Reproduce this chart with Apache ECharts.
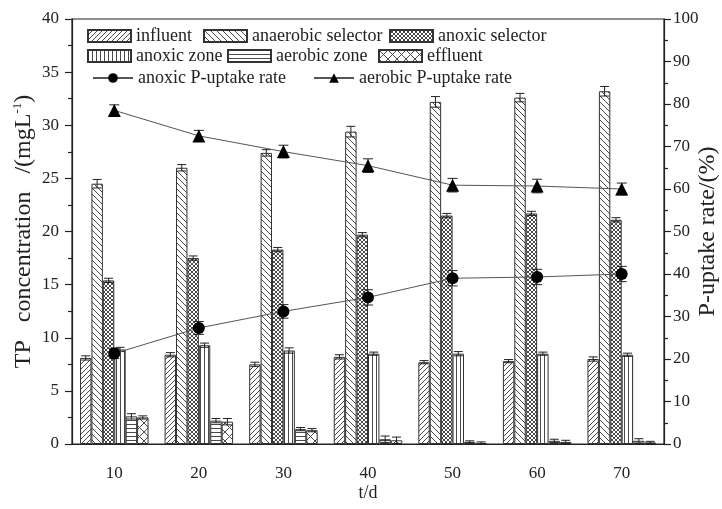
<!DOCTYPE html>
<html><head><meta charset="utf-8">
<script src="https://cdn.jsdelivr.net/npm/echarts@6/dist/echarts.min.js"></script>
<style>html,body{margin:0;padding:0;background:#fff}#c{width:722px;height:509px}</style>
</head><body><div id="c"></div>
<script>
// ---- data ----
const days = ['10', '20', '30', '40', '50', '60', '70'];
const influent        = [8.1, 8.4, 7.5, 8.2, 7.7, 7.8, 8.0];
const influentErr     = [0.2, 0.2, 0.2, 0.2, 0.15, 0.15, 0.2];
const anaerobicSel    = [24.5, 26.0, 27.4, 29.4, 32.2, 32.6, 33.2];
const anaerobicSelErr = [0.4, 0.3, 0.3, 0.5, 0.5, 0.4, 0.45];
const anoxicSel       = [15.4, 17.5, 18.3, 19.7, 21.5, 21.7, 21.1];
const anoxicSelErr    = [0.2, 0.2, 0.2, 0.2, 0.2, 0.2, 0.2];
const anoxicZone      = [8.9, 9.3, 8.8, 8.5, 8.5, 8.5, 8.4];
const anoxicZoneErr   = [0.2, 0.2, 0.25, 0.15, 0.2, 0.15, 0.15];
const aerobicZone     = [2.6, 2.2, 1.4, 0.45, 0.2, 0.3, 0.3];
const aerobicZoneErr  = [0.25, 0.2, 0.15, 0.3, 0.1, 0.15, 0.2];
const effluent        = [2.5, 2.1, 1.3, 0.35, 0.1, 0.2, 0.15];
const effluentErr     = [0.15, 0.3, 0.15, 0.3, 0.1, 0.15, 0.1];
const anoxicRate      = [21.3, 27.3, 31.2, 34.5, 39.0, 39.3, 40.0];
const anoxicRateErr   = [1.2, 1.5, 1.6, 1.8, 1.8, 1.8, 1.8];
const aerobicRate     = [78.5, 72.5, 68.8, 65.5, 60.9, 60.7, 60.0];
const aerobicRateErr  = [1.3, 1.3, 1.5, 1.6, 1.6, 1.6, 1.4];
const leftTicks = [0, 5, 10, 15, 20, 25, 30, 35, 40];
const rightTicks = [0, 10, 20, 30, 40, 50, 60, 70, 80, 90, 100];

// ---- patterns ----
function pattern(type) {
  const c = document.createElement('canvas');
  let s = 5;
  if (type === 'back') s = 6;
  if (type === 'dense') s = 4;
  if (type === 'vert' || type === 'horiz') s = 4;
  if (type === 'bigx') s = 9;
  c.width = s; c.height = s;
  const g = c.getContext('2d');
  g.fillStyle = '#fff'; g.fillRect(0, 0, s, s);
  g.strokeStyle = '#4a4a4a'; g.lineWidth = 1;
  const fwd = () => { g.beginPath(); g.moveTo(-1, s + 1); g.lineTo(s + 1, -1); g.moveTo(-1, 1); g.lineTo(1, -1); g.moveTo(s - 1, s + 1); g.lineTo(s + 1, s - 1); g.stroke(); };
  const back = () => { g.beginPath(); g.moveTo(-1, -1); g.lineTo(s + 1, s + 1); g.moveTo(s - 1, -1); g.lineTo(s + 1, 1); g.moveTo(-1, s - 1); g.lineTo(1, s + 1); g.stroke(); };
  if (type === 'fwd') fwd();
  if (type === 'back') back();
  if (type === 'dense' || type === 'bigx') { fwd(); back(); }
  if (type === 'vert') { g.beginPath(); g.moveTo(0.5, 0); g.lineTo(0.5, s); g.stroke(); }
  if (type === 'horiz') { g.beginPath(); g.moveTo(0, 0.5); g.lineTo(s, 0.5); g.stroke(); }
  return { image: c, repeat: 'repeat' };
}

const FONT = 'Liberation Serif, Times New Roman, serif';
const BARW = 0.135;
const barDefs = [
  ['influent', influent, influentErr, 'fwd'],
  ['anaerobic selector', anaerobicSel, anaerobicSelErr, 'back'],
  ['anoxic selector', anoxicSel, anoxicSelErr, 'dense'],
  ['anoxic zone', anoxicZone, anoxicZoneErr, 'vert'],
  ['aerobic zone', aerobicZone, aerobicZoneErr, 'horiz'],
  ['effluent', effluent, effluentErr, 'bigx']
];

function errRender(k, capHalf) {
  return function (params, api) {
    const j = api.value(0), v = api.value(1), e = api.value(2);
    const band = api.size([1, 0])[0];
    const off = k === null ? 0 : (k - 2.5) * band * BARW;
    const t = api.coord([j, v + e]);
    const b = api.coord([j, Math.max(v - e, 0)]);
    const x = t[0] + off;
    const st = { stroke: '#222', lineWidth: 1 };
    return { type: 'group', children: [
      { type: 'line', shape: { x1: x, y1: t[1], x2: x, y2: b[1] }, style: st },
      { type: 'line', shape: { x1: x - capHalf, y1: t[1], x2: x + capHalf, y2: t[1] }, style: st },
      { type: 'line', shape: { x1: x - capHalf, y1: b[1], x2: x + capHalf, y2: b[1] }, style: st }
    ]};
  };
}

const series = [];
barDefs.forEach((d, k) => {
  series.push({
    name: d[0], type: 'bar', data: d[1], barWidth: (BARW * 100) + '%', barGap: '0%',
    itemStyle: { color: pattern(d[3]), borderColor: '#333', borderWidth: 1 },
    z: 2
  });
});
barDefs.forEach((d, k) => {
  series.push({
    type: 'custom', renderItem: errRender(k, 4.5), silent: true, z: 3,
    encode: { x: 0, y: 1 },
    data: d[1].map((v, i) => [i, v, d[2][i]])
  });
});
series.push({
  name: 'anoxic P-uptake rate', type: 'line', yAxisIndex: 1, data: anoxicRate,
  symbol: 'circle', symbolSize: 12, itemStyle: { color: '#000' },
  lineStyle: { color: '#555', width: 1 }, z: 5
});
series.push({
  name: 'aerobic P-uptake rate', type: 'line', yAxisIndex: 1, data: aerobicRate,
  symbol: 'triangle', symbolSize: 13, itemStyle: { color: '#000' },
  lineStyle: { color: '#555', width: 1 }, z: 5
});
series.push({
  type: 'custom', yAxisIndex: 1, renderItem: errRender(null, 5), silent: true, z: 4,
  encode: { x: 0, y: 1 }, data: anoxicRate.map((v, i) => [i, v, anoxicRateErr[i]])
});
series.push({
  type: 'custom', yAxisIndex: 1, renderItem: errRender(null, 5), silent: true, z: 4,
  encode: { x: 0, y: 1 }, data: aerobicRate.map((v, i) => [i, v, aerobicRateErr[i]])
});

function leg(name, left, top, isLine) {
  const o = {
    data: [name], left: left, top: top, padding: 0, itemGap: 0,
    itemWidth: isLine ? 40 : 43, itemHeight: 12,
    textStyle: { fontFamily: FONT, fontSize: 18, color: '#222', padding: [0, 0, 0, 0] },
    selectedMode: false
  };
  if (!isLine) o.icon = 'rect';
  return o;
}

const axisLineStyle = { color: '#222', width: 1.2 };
const option = {
  backgroundColor: '#fff',
  animation: false,
  grid: { left: 72, right: 58, top: 19, bottom: 65, show: true, borderColor: '#222', borderWidth: 1.2,
    backgroundColor: 'transparent', containLabel: false, outerBoundsMode: 'none' },
  legend: [
    leg('influent', 87, 27),
    leg('anaerobic selector', 203, 27),
    leg('anoxic selector', 389, 27),
    leg('anoxic zone', 87, 47),
    leg('aerobic zone', 227, 47),
    leg('effluent', 378, 47),
    leg('anoxic P-uptake rate', 92, 69, true),
    leg('aerobic P-uptake rate', 313, 69, true)
  ],
  xAxis: [{
    type: 'category', data: days, boundaryGap: true,
    axisLine: { lineStyle: axisLineStyle },
    axisTick: { alignWithLabel: true, length: 7, lineStyle: axisLineStyle },
    axisLabel: { fontFamily: FONT, fontSize: 17, color: '#222', margin: 21 },
    name: 't/d', nameLocation: 'middle', nameGap: 40, nameMoveOverlap: false,
    nameTextStyle: { fontFamily: FONT, fontSize: 18, color: '#222' }
  }, {
    type: 'category', data: days, boundaryGap: true, position: 'bottom',
    axisLine: { show: false },
    axisTick: { alignWithLabel: false, length: 4, lineStyle: axisLineStyle },
    axisLabel: { show: false }
  }],
  yAxis: [{
    type: 'value', min: 0, max: 40, interval: 5,
    axisLine: { show: true, lineStyle: axisLineStyle },
    axisTick: { show: true, length: 7, lineStyle: axisLineStyle },
    minorTick: { show: true, splitNumber: 2, length: 4, lineStyle: axisLineStyle },
    splitLine: { show: false },
    axisLabel: { fontFamily: FONT, fontSize: 17, color: '#222', margin: 13,
      formatter: v => leftTicks.indexOf(v) >= 0 ? String(v) : '' },
    name: 'TP   concentration   /(mgL{s|-1})', nameLocation: 'middle', nameGap: 36, nameRotate: 90,
    nameMoveOverlap: false,
    nameTextStyle: { fontFamily: FONT, fontSize: 24, color: '#222',
      rich: { s: { fontFamily: FONT, fontSize: 13, verticalAlign: 'top', padding: [0, 0, 12, 0], color: '#222' } } }
  }, {
    type: 'value', min: 0, max: 100, interval: 10, position: 'right',
    axisLine: { show: true, lineStyle: axisLineStyle },
    axisTick: { show: true, length: 7, lineStyle: axisLineStyle },
    minorTick: { show: true, splitNumber: 2, length: 4, lineStyle: axisLineStyle },
    splitLine: { show: false },
    axisLabel: { fontFamily: FONT, fontSize: 17, color: '#222', margin: 9,
      formatter: v => rightTicks.indexOf(v) >= 0 ? String(v) : '' },
    name: 'P-uptake rate/(%)', nameLocation: 'middle', nameGap: 32, nameRotate: 90,
    nameMoveOverlap: false,
    nameTextStyle: { fontFamily: FONT, fontSize: 24, color: '#222' }
  }],
  series: series
};
const chart = echarts.init(document.getElementById('c'), null, { renderer: 'canvas' });
chart.setOption(option);
</script>
</body></html>
